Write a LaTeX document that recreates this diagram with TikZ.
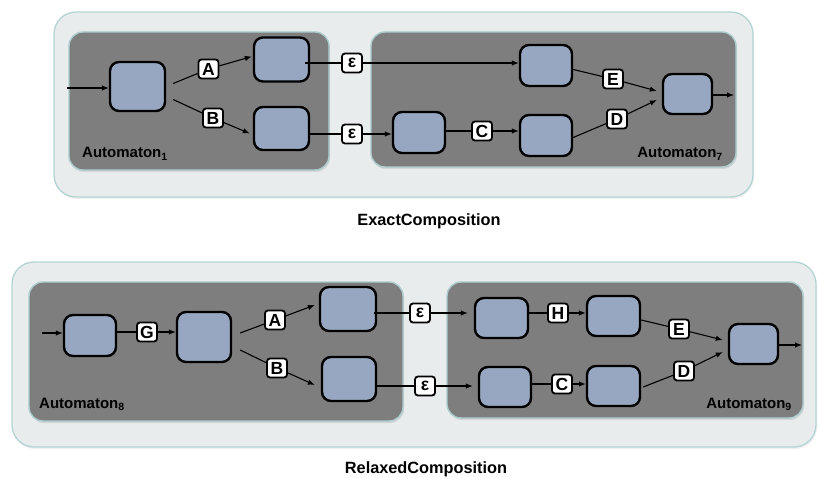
\documentclass[tikz,border=0pt]{standalone}
\usepackage{fontspec}
\setmainfont{Liberation Sans}
\usetikzlibrary{arrows.meta,shadows,calc}

\definecolor{outerfill}{RGB}{232,236,236}
\definecolor{outerdraw}{RGB}{180,212,212}
\definecolor{darkfill}{RGB}{126,126,126}
\definecolor{darkdraw}{RGB}{172,204,204}
\definecolor{statefill}{RGB}{152,167,193}

\newcommand\autname[1]{Automaton\textsubscript{#1}}

\begin{document}
\begin{tikzpicture}[x=1pt,y=-1pt,
  outerbox/.style={fill=outerfill,draw=outerdraw,line width=1.3pt,rounded corners=22pt,
    drop shadow={opacity=0.12,shadow xshift=1pt,shadow yshift=-2pt}},
  autbox/.style={fill=darkfill,draw=darkdraw,line width=1.4pt,rounded corners=14pt,
    drop shadow={opacity=0.2,shadow xshift=1pt,shadow yshift=-2pt}},
  state/.style={rectangle,rounded corners=9pt,draw=black,line width=2.4pt,fill=statefill,
    minimum width=52pt,minimum height=41pt,inner sep=0pt},
  lbl/.style={rectangle,rounded corners=3pt,draw=black,line width=1.8pt,fill=white,
    font=\bfseries\fontsize{17.5}{17.5}\selectfont,inner sep=0pt,minimum width=20pt,minimum height=19pt},
  autlbl/.style={font=\bfseries\fontsize{15}{16}\selectfont,inner sep=0pt},
  caption/.style={font=\bfseries\fontsize{16.3}{18}\selectfont,inner sep=0pt},
  edge/.style={line width=1.1pt},
  arr/.style={edge,-{Latex[length=7pt,width=5.5pt]}}
]
\useasboundingbox (0,0) rectangle (818,478);

% ---------- exact composition ----------
\draw[outerbox] (54,12) rectangle (753,197);
\draw[autbox] (69,32) rectangle (329,170);
\draw[autbox] (371,32) rectangle (736,167);

\node[state,minimum width=55pt,minimum height=49pt] (s1) at (137.5,86.5) {};
\node[state,minimum width=55pt,minimum height=44pt] (s2) at (281.5,59.5) {};
\node[state,minimum width=55pt,minimum height=43pt] (s3) at (281.5,128.5) {};
\node[state] (r1) at (546,65.5) {};
\node[state] (r2) at (419,132.5) {};
\node[state] (r3) at (546,135.5) {};
\node[state,minimum width=49pt,minimum height=40pt] (r4) at (687.5,94) {};

\node[lbl] (la) at (208.5,69) {A};
\node[lbl] (lb) at (213,118) {B};
\node[lbl] (e1) at (352,63) {ε};
\node[lbl] (e2) at (352,134) {ε};
\node[lbl] (lc) at (482,131) {C};
\node[lbl] (le) at (613,79) {E};
\node[lbl] (ld) at (617,119) {D};

\coordinate (in1) at (67,88);
\coordinate (out1) at (734,95);

\draw[arr] (in1) -- (in1 -| s1.west);
\draw[edge] ([xshift=7pt,yshift=3pt]s1.east) -- (la);
\draw[arr] (la) -- ([xshift=-1pt,yshift=3pt]s2.west);
\draw[edge] ([xshift=7pt,yshift=-13pt]s1.east) -- (lb);
\draw[arr] (lb) -- ([xshift=-3pt,yshift=-5pt]s3.west);
\draw[edge] ($(s2.east |- e1)+(-5,0)$) -- (e1);
\draw[arr] (e1) -- (e1 -| r1.west);
\draw[edge] (s3.east |- e2) -- (e2);
\draw[arr] (e2) -- (e2 -| r2.west);
\draw[edge] (r2.east |- lc) -- (lc);
\draw[arr] (lc) -- (lc -| r3.west);
\draw[edge] ([yshift=-4pt]r1.east) -- (le);
\draw[arr] (le) -- ([xshift=-5pt,yshift=3pt]r4.west);
\draw[edge] ([yshift=-2pt]r3.east) -- (ld);
\draw[arr] (ld) -- ([xshift=-5pt,yshift=-6pt]r4.west);
\draw[arr] (r4.east |- out1) -- (out1);

\node[autlbl,anchor=base west] (n1) at (82,158) {\autname{1}};
\node[autlbl,anchor=base east] (n7) at (723,158) {\autname{7}};
\node[caption] (cap1) at (429,221) {ExactComposition};

% ---------- relaxed composition ----------
\draw[outerbox] (12,262) rectangle (816,447);
\draw[autbox] (29,282) rectangle (403,421);
\draw[autbox] (447,282) rectangle (803,418);

\node[state] (b1) at (90,335.5) {};
\node[state,minimum width=54pt,minimum height=50pt] (b2) at (204,337) {};
\node[state,minimum width=56pt,minimum height=44pt] (b3) at (348,309) {};
\node[state,minimum width=54pt,minimum height=44pt] (b4) at (349,379) {};
\node[state,minimum width=53pt,minimum height=40pt] (c1) at (501.5,318) {};
\node[state,minimum width=53pt,minimum height=40pt] (c2) at (613.5,316) {};
\node[state,minimum width=52pt,minimum height=40pt] (c3) at (505,387) {};
\node[state,minimum width=53pt,minimum height=40pt] (c4) at (613.5,386) {};
\node[state,minimum width=49pt,minimum height=40pt] (c5) at (753.5,344) {};

\node[lbl] (lg) at (147,332) {G};
\node[lbl] (la2) at (275,320) {A};
\node[lbl] (lb2) at (277,368) {B};
\node[lbl] (e3) at (420,313) {ε};
\node[lbl] (e4) at (425,386) {ε};
\node[lbl] (lh) at (558,313) {H};
\node[lbl] (lc2) at (562,384) {C};
\node[lbl] (le2) at (679,329) {E};
\node[lbl] (ld2) at (684,371) {D};

\coordinate (in2) at (42,333);
\coordinate (out2) at (802,345);

\draw[arr] (in2) -- (in2 -| b1.west);
\draw[edge] (b1.east |- lg) -- (lg);
\draw[arr] (lg) -- (lg -| b2.west);
\draw[edge] ([xshift=8pt,yshift=4pt]b2.east) -- (la2);
\draw[arr] (la2) -- ([xshift=-4pt,yshift=4pt]b3.west);
\draw[edge] ([xshift=8pt,yshift=-13pt]b2.east) -- (lb2);
\draw[arr] (lb2) -- ([xshift=-6pt,yshift=-6pt]b4.west);
\draw[edge] ($(b3.east |- e3)+(-3,0)$) -- (e3);
\draw[arr] (e3) -- ($(e3 -| c1.west)+(-6,0)$);
\draw[edge] (b4.east |- e4) -- (e4);
\draw[arr] (e4) -- ($(e4 -| c3.west)+(-5,0)$);
\draw[edge] (c1.east |- lh) -- (lh);
\draw[arr] (lh) -- (lh -| c2.west);
\draw[edge] (c3.east |- lc2) -- (lc2);
\draw[arr] (lc2) -- (lc2 -| c4.west);
\draw[edge] ([yshift=-4pt]c2.east) -- (le2);
\draw[arr] (le2) -- ([xshift=-5pt,yshift=4pt]c5.west);
\draw[edge] ([xshift=2pt,yshift=-1pt]c4.east) -- (ld2);
\draw[arr] (ld2) -- ([xshift=-5pt,yshift=-8pt]c5.west);
\draw[arr] (c5.east |- out2) -- (out2);

\node[autlbl,anchor=base west] (n8) at (39,408) {\autname{8}};
\node[autlbl,anchor=base east] (n9) at (792,408) {\autname{9}};
\node[caption] (cap2) at (426,469) {RelaxedComposition};
\end{tikzpicture}
\end{document}
